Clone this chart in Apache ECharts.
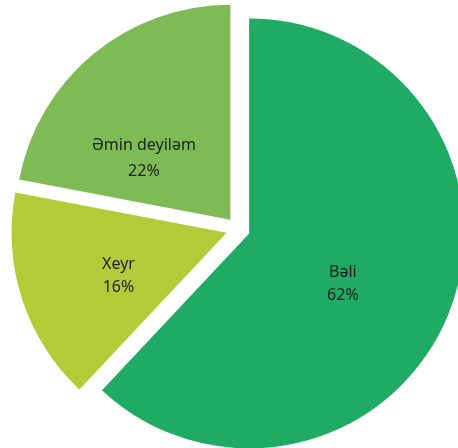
<!DOCTYPE html>
<html>
<head>
<meta charset="utf-8">
<script src="https://cdn.jsdelivr.net/npm/echarts@6/dist/echarts.min.js"></script>
<style>html,body{margin:0;padding:0;background:#fff;}#c{width:458px;height:448px;}</style>
</head>
<body>
<div id="c"></div>
<script>
var categories = ['Bəli', 'Xeyr', 'Əmin deyiləm'];
var values = [62, 16, 22];
var colors = ['#1FAB63', '#B3CB36', '#7EBB55'];
var labelNudge = [[-9, 10], [-3, 9], [-16, 24]];

var chart = echarts.init(document.getElementById('c'));
chart.setOption({
  animation: false,
  backgroundColor: '#ffffff',
  series: [{
    type: 'pie',
    center: [238, 229],
    radius: [0, 215],
    startAngle: 90,
    clockwise: true,
    selectedMode: 'multiple',
    selectedOffset: 12,
    silent: true,
    emphasis: { disabled: true },
    label: {
      show: true,
      position: 'inside',
      formatter: '{b}\n{d}%',
      fontFamily: 'Noto Sans',
      fontSize: 16,
      lineHeight: 23,
      color: '#222222'
    },
    labelLine: { show: false },
    labelLayout: function (p) {
      return { dx: labelNudge[p.dataIndex][0], dy: labelNudge[p.dataIndex][1] };
    },
    data: categories.map(function (n, i) {
      return {
        name: n,
        value: values[i],
        selected: true,
        itemStyle: { color: colors[i] },
        select: { itemStyle: { color: colors[i] } },
        label: { lineHeight: i === 2 ? 26 : 23 }
      };
    })
  }]
});
</script>
</body>
</html>
